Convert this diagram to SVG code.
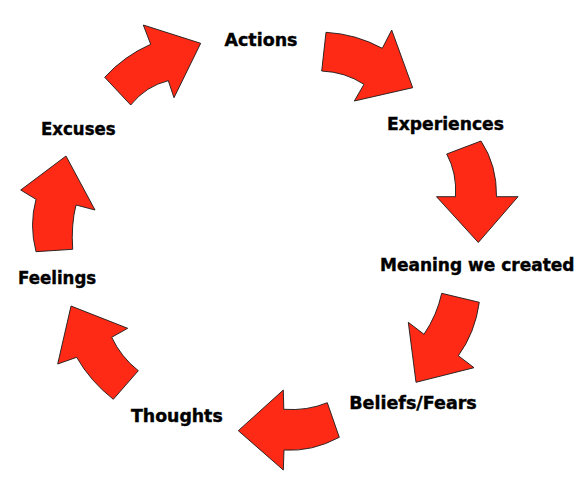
<svg xmlns="http://www.w3.org/2000/svg" width="585" height="480" viewBox="0 0 585 480">
<style>
.arrow{fill:#fe2a16;stroke:#1a1a1a;stroke-width:0.9;stroke-linejoin:miter}
.lbl{font-family:"DejaVu Sans","Liberation Sans",sans-serif;font-weight:bold;font-size:17px;fill:#000;stroke:#000;stroke-width:0.4}
</style>
<rect width="585" height="480" fill="#fff"/>
<g id="connectors">
<path class="arrow" d="M104.7,77.3 Q124,56 150.7,44.3 L143.3,25 L200.7,43.3 L174,97.7 L168.3,80.7 Q146,86 130.7,105 Z"/>
<path class="arrow" d="M326,32.3 Q356,34 382.3,48.3 L391.7,30 L412.7,87.7 L354.3,101 L364,84.3 Q345,72 321.7,71 Z"/>
<path class="arrow" d="M481,141 Q497,165 496.5,196.7 L518,196.7 L478.3,242.5 L436.5,196.7 L455.5,196.7 Q457,173 446.7,154 Z"/>
<path class="arrow" d="M441.7,293.3 L479.3,302.3 Q475,333 458.3,355.7 L474,367.7 L416,382.3 L408.3,322.3 L424,334.3 Q437,315 441.7,293.3 Z"/>
<path class="arrow" d="M327.3,402.7 L339.3,437.3 Q312,452 284,450 L283.3,470 L238.3,430.7 L283.3,390 L283.8,409.3 Q307,411 327.3,402.7 Z"/>
<path class="arrow" d="M71,306 L127.7,328.3 L111.7,337.3 Q121,357 138.3,370.7 L113.3,399.3 Q90,381 76.7,357.3 L57.7,364 Z"/>
<path class="arrow" d="M66,156 L95,210 L76,205 Q71,225 72.7,249.3 L36,251.7 Q29,225 36,199.3 L20.7,190 Z"/>
</g>
<g id="node-actions"><text class="lbl" x="224.5" y="46" textLength="73" lengthAdjust="spacingAndGlyphs">Actions</text></g>
<g id="node-experiences"><text class="lbl" x="387" y="130" textLength="117" lengthAdjust="spacingAndGlyphs">Experiences</text></g>
<g id="node-meaning"><text class="lbl" x="380" y="271" textLength="194.5" lengthAdjust="spacingAndGlyphs">Meaning we created</text></g>
<g id="node-beliefs"><text class="lbl" x="349.2" y="408.5" textLength="127.6" lengthAdjust="spacingAndGlyphs">Beliefs/Fears</text></g>
<g id="node-thoughts"><text class="lbl" x="131" y="421.5" textLength="91.7" lengthAdjust="spacingAndGlyphs">Thoughts</text></g>
<g id="node-feelings"><text class="lbl" x="18" y="283.5" textLength="78.2" lengthAdjust="spacingAndGlyphs">Feelings</text></g>
<g id="node-excuses"><text class="lbl" x="41" y="134.5" textLength="74.6" lengthAdjust="spacingAndGlyphs">Excuses</text></g>
</svg>
